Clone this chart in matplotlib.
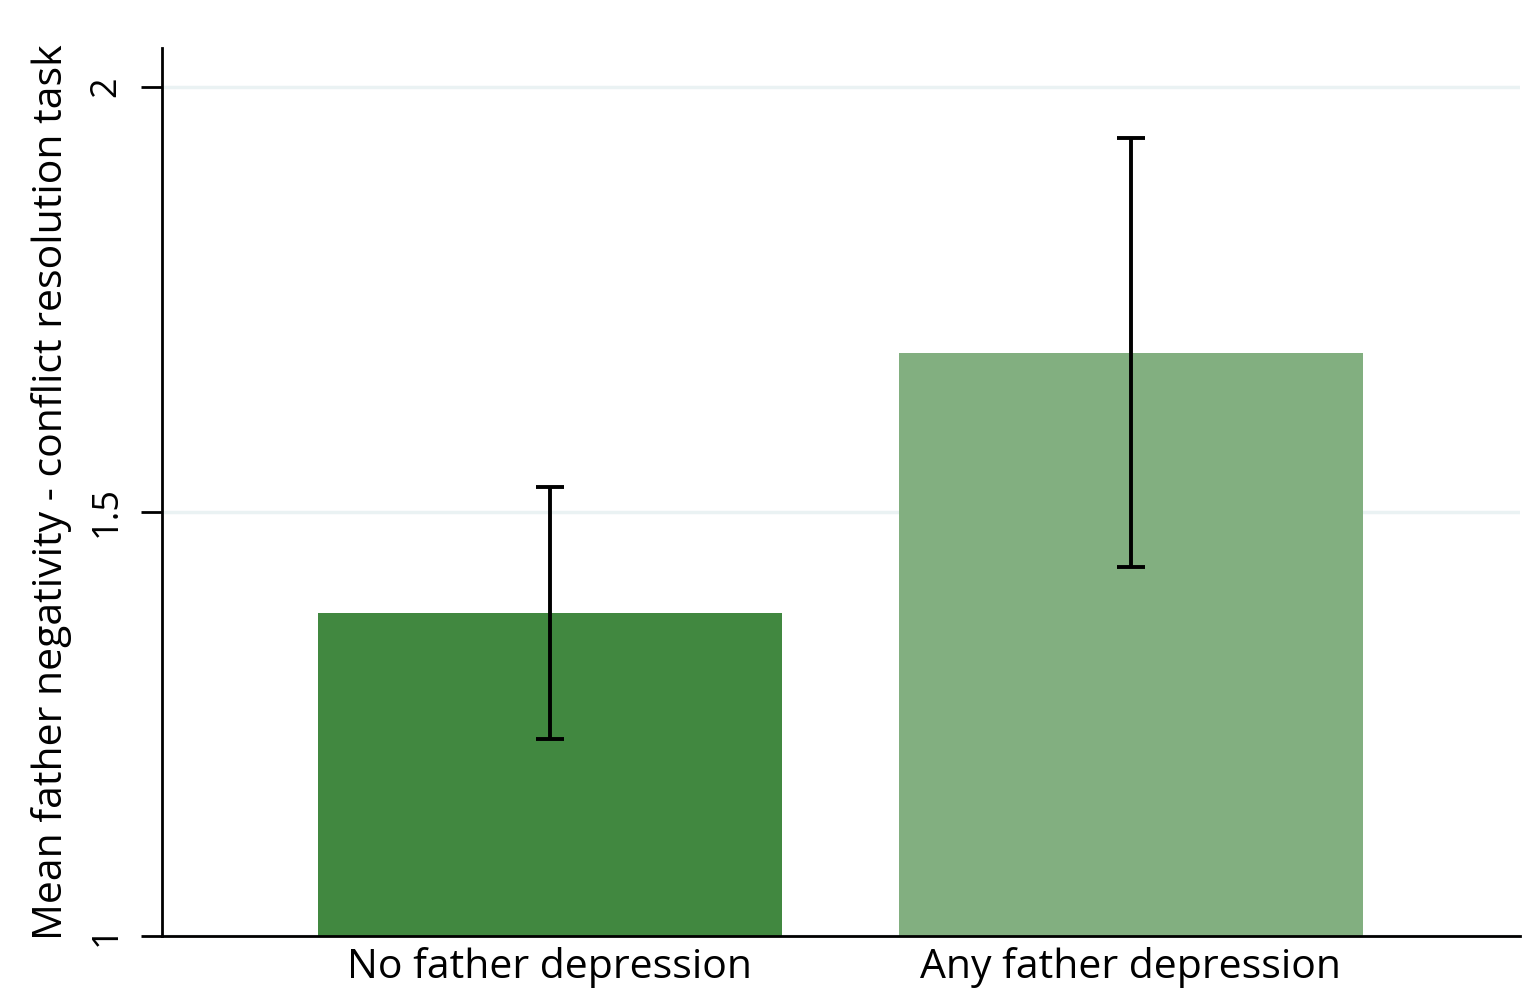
import matplotlib
matplotlib.use("Agg")
import matplotlib.pyplot as plt

categories = ["No father depression", "Any father depression"]
means = [1.380, 1.687]
ci_low = [1.232, 1.435]
ci_high = [1.529, 1.940]
bar_colors = ["#418840", "#82AF80"]
y_ticks = [1, 1.5, 2]
y_tick_labels = ["1", "1.5", "2"]
y_label = "Mean father negativity - conflict resolution task"

plt.rcParams["font.family"] = ["Open Sans", "DejaVu Sans"]

fig = plt.figure(figsize=(15.28, 10), dpi=100)
ax = fig.add_axes([0.106, 0.064, 0.8888, 0.888])

x = list(range(len(categories)))
ax.bar(x, [m - 1 for m in means], bottom=1, width=0.8, color=bar_colors, zorder=2)

err_lo = [m - l for m, l in zip(means, ci_low)]
err_hi = [h - m for m, h in zip(means, ci_high)]
ax.errorbar(x, means, yerr=[err_lo, err_hi], fmt="none", ecolor="black",
            elinewidth=2.8, capsize=10, capthick=2.8, zorder=3)

ax.set_xlim(-0.668, 1.67)
ax.set_ylim(1, 2.046)
ax.set_yticks(y_ticks)
ax.set_yticklabels(y_tick_labels, rotation=90, va="center", fontsize=26)
ax.set_xticks(x)
ax.set_xticklabels(categories, fontsize=29.5)
ax.tick_params(axis="x", length=0, pad=8)
ax.tick_params(axis="y", length=15, width=2, pad=12)
ax.set_ylabel(y_label, fontsize=29.5, labelpad=12)

ax.grid(axis="y", color="#EAF2F3", linewidth=2.5, zorder=0)
ax.set_axisbelow(True)
for side in ["top", "right"]:
    ax.spines[side].set_visible(False)
for side in ["left", "bottom"]:
    ax.spines[side].set_linewidth(2)

fig.savefig("out.png", dpi=100, facecolor="white")
